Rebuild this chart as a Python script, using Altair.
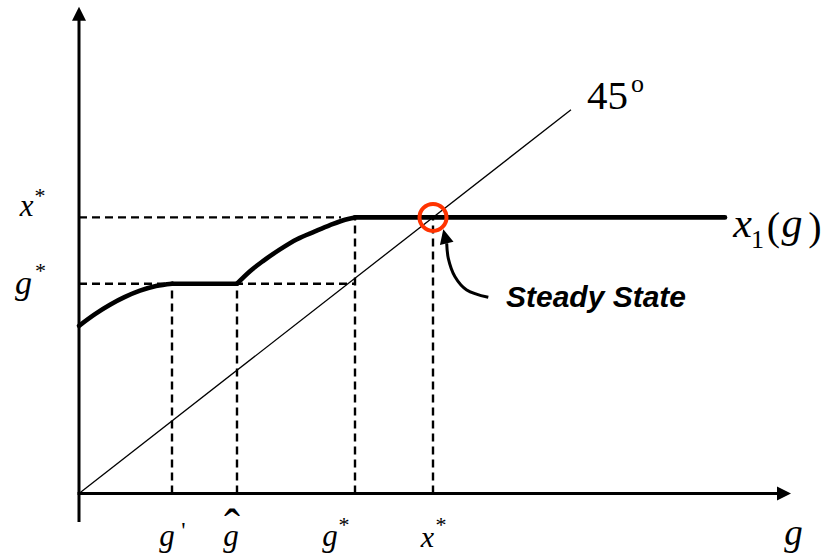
import altair as alt
import pandas as pd

# points marked on the g axis
g_prime = 9.3
g_hat = 15.8
g_star = 27.6
x_star = 35.4
# heights of the two plateaus of x1(g)
g_star_level = 26.9
x_star_level = 35.4

# x1(g): rising piece, plateau at g*, rising piece, plateau at x*
rise1_g = [0.0, 1.6, 3.1, 4.6, 6.1, 7.7, 9.3]
rise1_x = [21.5, 23.0, 24.2, 25.2, 26.0, 26.6, 26.9]
rise2_g = [15.8, 17.1, 18.4, 20.1, 21.8, 23.6, 25.1, 26.6, 27.6]
rise2_x = [26.9, 28.5, 29.8, 31.3, 32.6, 33.6, 34.4, 35.1, 35.4]
g_max = 64.6

# end of the 45-degree line
diag_end = 49.2

# axis extents (arrow tips)
g_axis_end = 71.2
x_axis_end = 62.4
x_axis_start = -3.65

# curved pointer from the "Steady State" note to the fixed point
pointer_g = [40.93, 38.77, 37.6, 36.93, 36.77]
pointer_x = [25.15, 26.09, 27.79, 30.15, 32.08]
pointer_tip = (36.43, 33.87)

xs = alt.Scale(domain=[-7.9, 75.1], nice=False, zero=False)
ys = alt.Scale(domain=[-8.27, 63.27], nice=False, zero=False)


def X(field):
    return alt.X(field, type="quantitative", scale=xs, axis=None)


def Y(field):
    return alt.Y(field, type="quantitative", scale=ys, axis=None)


# ---- axes -------------------------------------------------------------
axes_df = pd.DataFrame({
    "g": [-0.15, 0.0],
    "x": [0.0, x_axis_start],
    "g2": [g_axis_end - 1.2, 0.0],
    "x2": [0.0, x_axis_end - 1.6],
})
axes = alt.Chart(axes_df).mark_rule(color="black", strokeWidth=3).encode(
    x=X("g"), y=Y("x"), x2=alt.X2("g2"), y2=alt.Y2("x2")
)

g_arrow = alt.Chart(pd.DataFrame({"g": [g_axis_end], "x": [0.0]})).mark_point(
    shape="M0,0L-2,-1L-2,1Z", size=196, filled=True, color="black", opacity=1, strokeWidth=0
).encode(x=X("g"), y=Y("x"))

x_arrow = alt.Chart(pd.DataFrame({"g": [0.0], "x": [x_axis_end]})).mark_point(
    shape="M0,0L-1,2L1,2Z", size=196, filled=True, color="black", opacity=1, strokeWidth=0
).encode(x=X("g"), y=Y("x"))

# ---- dashed guides ----------------------------------------------------
guides_df = pd.DataFrame({
    "g": [0.0, 0.0, g_prime, g_hat, g_star, x_star],
    "x": [x_star_level, g_star_level, 0.0, 0.0, 0.0, 0.0],
    "g2": [g_star - 1.4, g_star, g_prime, g_hat, g_star, x_star],
    "x2": [x_star_level, g_star_level, g_star_level, g_star_level, x_star_level, x_star_level],
})
guides = alt.Chart(guides_df).mark_rule(
    color="black", strokeWidth=2.4, strokeDash=[8, 5]
).encode(x=X("g"), y=Y("x"), x2=alt.X2("g2"), y2=alt.Y2("x2"))

# ---- 45-degree line ---------------------------------------------------
diag = alt.Chart(pd.DataFrame({"g": [0.0, diag_end], "x": [0.0, diag_end]})).mark_line(
    color="black", strokeWidth=1.3
).encode(x=X("g"), y=Y("x"))

# ---- x1(g) ------------------------------------------------------------
pieces = []
for g, x in zip(rise1_g, rise1_x):
    pieces.append({"piece": 1, "g": g, "x": x})
pieces += [{"piece": 2, "g": g_prime, "x": g_star_level},
           {"piece": 2, "g": g_hat, "x": g_star_level}]
for g, x in zip(rise2_g, rise2_x):
    pieces.append({"piece": 3, "g": g, "x": x})
pieces += [{"piece": 4, "g": g_star, "x": x_star_level},
           {"piece": 4, "g": g_max, "x": x_star_level}]
x1 = alt.Chart(pd.DataFrame(pieces)).mark_line(
    color="black", strokeWidth=4.6, interpolate="monotone", strokeCap="round", strokeJoin="round"
).encode(x=X("g"), y=Y("x"), detail="piece:N")

# ---- steady state marker and pointer ----------------------------------
ring = alt.Chart(pd.DataFrame({"g": [x_star], "x": [x_star_level]})).mark_point(
    shape="circle", size=729, filled=False, color="#FF3300", strokeWidth=4, opacity=1
).encode(x=X("g"), y=Y("x"))

pointer_df = pd.DataFrame({"g": pointer_g, "x": pointer_x, "i": list(range(len(pointer_g)))})
pointer = alt.Chart(pointer_df).mark_line(
    color="black", strokeWidth=3, interpolate="catmull-rom"
).encode(x=X("g"), y=Y("x"), order="i:Q")

pointer_head = alt.Chart(pd.DataFrame({"g": [pointer_tip[0]], "x": [pointer_tip[1]]})).mark_point(
    shape="M0,0L1.36,1.65L-0.45,2.09Z", size=225, filled=True, color="black", opacity=1, strokeWidth=0
).encode(x=X("g"), y=Y("x"))


# ---- labels -----------------------------------------------------------
def label(text, gx, gy, size, dx=0, dy=0, italic=True, font="Liberation Serif",
          weight="normal", align="center"):
    df = pd.DataFrame({"g": [gx], "x": [gy], "t": [text]})
    return alt.Chart(df).mark_text(
        font=font, fontSize=size, fontStyle="italic" if italic else "normal",
        fontWeight=weight, align=align, baseline="alphabetic", dx=dx, dy=dy, color="black"
    ).encode(x=X("g"), y=Y("x"), text="t:N")


labels = [
    # vertical-axis marks
    label("x", 0.0, x_star_level, 31, dx=-52.5, dy=-1),
    label("*", 0.0, x_star_level, 22, dx=-39, dy=-14.4, italic=False),
    label("g", 0.0, g_star_level, 34, dx=-55.5, dy=10),
    label("*", 0.0, g_star_level, 22, dx=-38.5, dy=-5.7, italic=False),
    # horizontal-axis marks
    label("g", g_prime, 0.0, 31, dx=-5, dy=52.5),
    label("'", g_prime, 0.0, 24, dx=11.5, dy=44.5, italic=False),
    label("g", g_hat, 0.0, 31, dx=-6, dy=52.5),
    label("\u02c6", g_hat, 0.0, 48, dx=-5, dy=49.5, italic=False),
    label("g", g_star, 0.0, 31, dx=-25, dy=52.5),
    label("*", g_star, 0.0, 22, dx=-11, dy=38.5, italic=False),
    label("x", x_star, 0.0, 30, dx=-5.5, dy=53.5),
    label("*", x_star, 0.0, 22, dx=8, dy=38.5, italic=False),
    label("g", g_axis_end, 0.0, 37, dx=2.5, dy=51.4),
    # 45-degree tag
    label("45", diag_end, diag_end, 41, dx=16, dy=-0.5, italic=False, align="left"),
    label("o", diag_end, diag_end, 26, dx=66.5, dy=-17.7, italic=False),
    # x1(g) tag
    label("x", g_max, x_star_level, 42, dx=17.5, dy=19.6),
    label("1", g_max, x_star_level, 26, dx=32.5, dy=30.6, italic=False),
    label("(", g_max, x_star_level, 40, dx=48.5, dy=22.6, italic=False),
    label("g", g_max, x_star_level, 42, dx=67, dy=19.6),
    label(")", g_max, x_star_level, 40, dx=90, dy=22.6, italic=False),
    # steady state note
    label("Steady State", x_star, x_star_level, 30, dx=163, dy=89.6,
          font="Liberation Sans", weight="bold"),
]

chart = alt.layer(
    guides, diag, axes, g_arrow, x_arrow, x1, pointer, pointer_head, ring, *labels
).properties(
    width=830, height=558, padding=0,
    autosize=alt.AutoSizeParams(type="none"),
    background="white",
).configure_view(stroke=None)

chart.save("out.html", embed_options={"renderer": "svg", "actions": False})
